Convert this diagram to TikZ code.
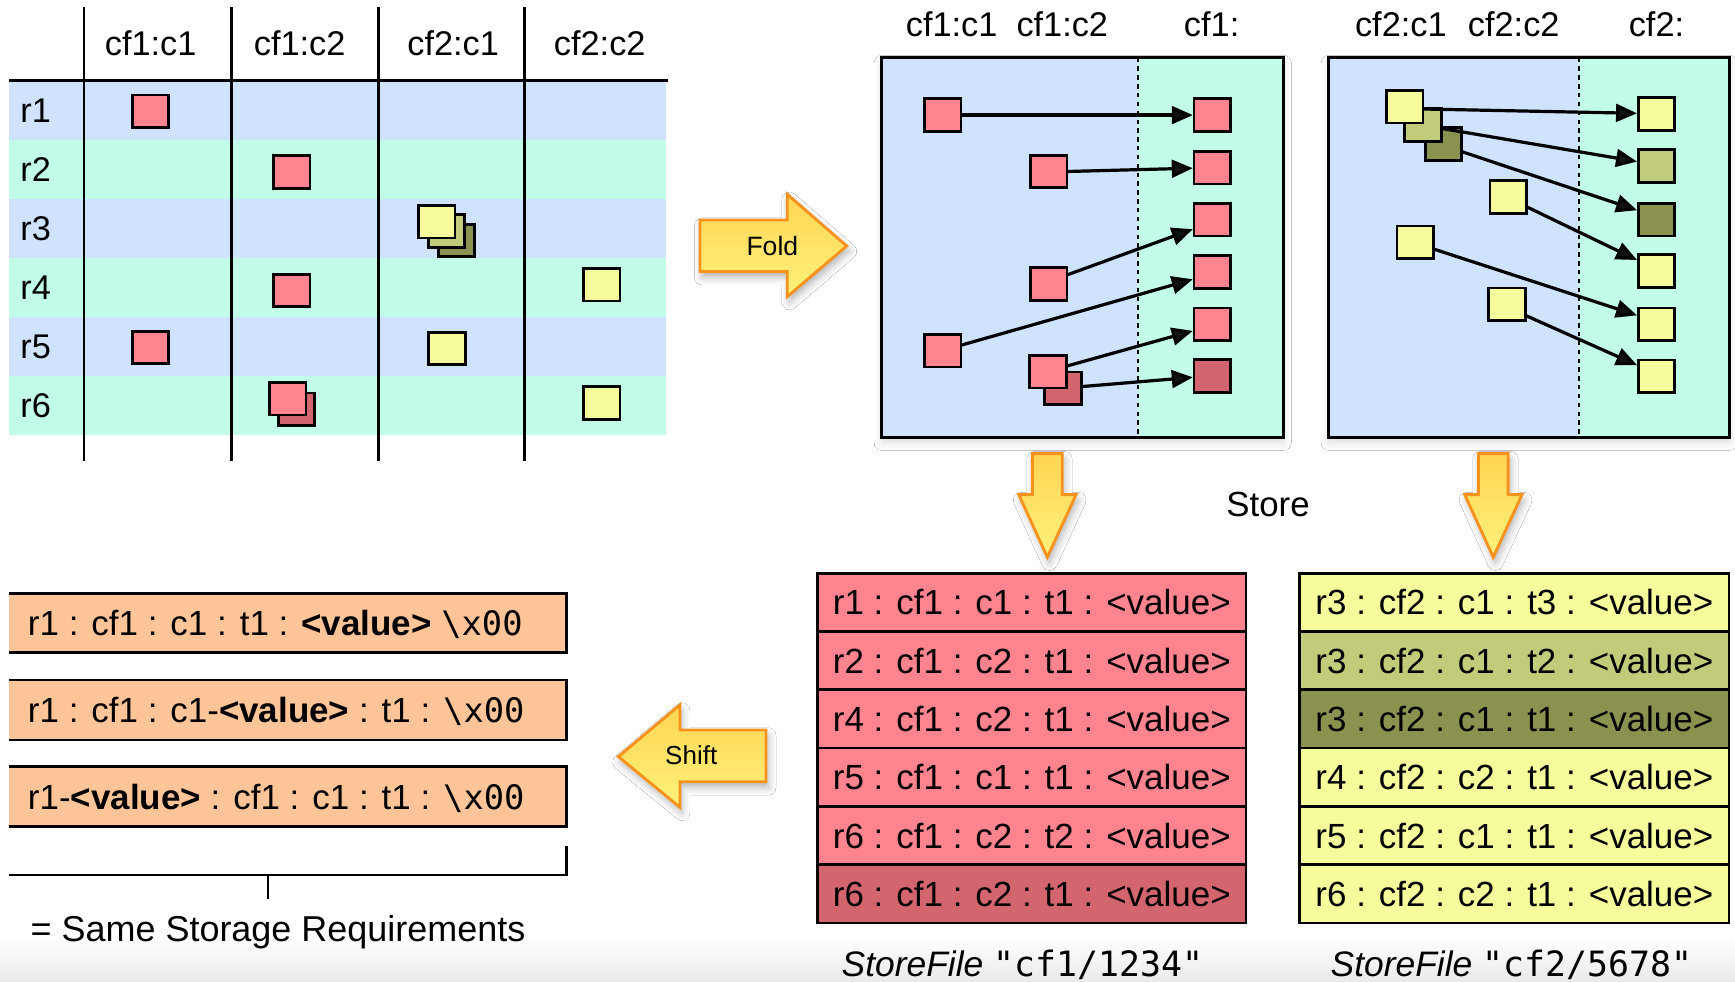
\documentclass[tikz,border=0pt]{standalone}
\usepackage{fontspec}
\setmainfont{Liberation Sans}
\setsansfont{Liberation Sans}
\setmonofont{DejaVu Sans Mono}
\usetikzlibrary{arrows.meta,calc,shadows.blur}
\definecolor{bandblue}{HTML}{CFE3FE}
\definecolor{bandgreen}{HTML}{C2FDE7}
\definecolor{pinkc}{HTML}{FF8490}
\definecolor{dpinkc}{HTML}{D3656F}
\definecolor{yelc}{HTML}{F6FB9B}
\definecolor{loc}{HTML}{C2CB7A}
\definecolor{doc}{HTML}{8B914F}
\definecolor{orgbox}{HTML}{FFC598}
\definecolor{arrowedge}{HTML}{F7921E}
\definecolor{arrowtop}{HTML}{FFD553}
\definecolor{arrowbot}{HTML}{FFF27A}
\definecolor{bggray}{HTML}{EAEAEA}
\newcommand{\fsz}[1]{\fontsize{#1}{#1}\selectfont}
\begin{document}
\begin{tikzpicture}[x=1pt,y=-1pt,
  fs/.style={inner sep=0pt, outer sep=0pt, font=\fsz{#1}, text height={0.716*#1pt}, text depth=0pt},
  hdr/.style={fs=31},
  sq/.style={draw=black, line width=2.5pt, minimum width=33pt, minimum height=29.5pt, inner sep=0pt, outer sep=0pt},
  pk/.style={sq, fill=pinkc}, dpk/.style={sq, fill=dpinkc}, yl/.style={sq, fill=yelc},
  lol/.style={sq, fill=loc}, dol/.style={sq, fill=doc},
  farr/.style={line width=2.9pt, -{Triangle[length=19pt,width=16pt]}},
  bigarrow/.style={draw=arrowedge, line width=2.6pt, top color=arrowtop, bottom color=arrowbot,
     blur shadow={shadow xshift=2pt, shadow yshift=-5pt, shadow blur radius=7pt, shadow opacity=30}},
  rowbox/.style={draw=black, line width=2.4pt, minimum width=387pt, minimum height=52.7pt, inner sep=0pt, outer sep=0pt,
     font=\fsz{31.6}, text height={0.716*31.6pt}, text depth=0pt},
  ybox/.style={rowbox, minimum width=388pt},
  panel/.style={draw=black, line width=2.6pt},
  sep/.style={line width=1.8pt, dash pattern=on 4pt off 4pt},
  tline/.style={line width=2.6pt}
]
\useasboundingbox (0,0) rectangle (1568,887);
\fill[white] (0,0) rectangle (1568,887);
\shade[top color=white, bottom color=bggray] (0,846) rectangle (1568,887);

% ---------------- left table ----------------
\foreach \k/\c in {0/bandblue,1/bandgreen,2/bandblue,3/bandgreen,4/bandblue,5/bandgreen}
  \fill[\c] (7.8,{73.2+53.3*\k}) rectangle (601.5,{73.2+53.3*(\k+1)});
\draw[tline] (7.8,72.6) -- (603.5,72.6);
\foreach \x in {75.9,209.4,341.9,474.3}
  \draw[tline] (\x,6.6) -- (\x,417);
\node[hdr] (h1) at (136.2,39) {cf1:c1};
\node[hdr] (h2) at (270.8,39) {cf1:c2};
\node[hdr] (h3) at (409.5,39) {cf2:c1};
\node[hdr] (h4) at (542,39) {cf2:c2};
\foreach \k in {1,...,6}
  \node[hdr, anchor=west] (rl\k) at (18.5,{73.2+53.3*(\k-0.5)}) {r\k};

\node[pk] (a11) at (136,100.5) {};
\node[pk] (a22) at (263.7,155.4) {};
\node[dol] (a33c) at (412.5,217.3) {};
\node[lol] (a33b) at (403.5,208.6) {};
\node[yl] (a33a) at (394.8,200.3) {};
\node[pk] (a42) at (263.7,262.5) {};
\node[yl] (a44) at (543.9,257.2) {};
\node[pk] (a51) at (136,314) {};
\node[yl] (a53) at (404,315) {};
\node[dpk] (a62b) at (268,370) {};
\node[pk] (a62a) at (260,360.4) {};
\node[yl] (a64) at (543.9,364.3) {};

% ---------------- Fold arrow ----------------
\path[bigarrow] (632.6,198.8) -- (711.5,198.8) -- (711.5,175.6) -- (765.2,222.3)
   -- (711.5,268.1) -- (711.5,245.5) -- (632.6,245.5) -- cycle;
\node[fs=24] (fold) at (698,222) {Fold};

% ---------------- panel 1 ----------------
\path[blur shadow={shadow xshift=0pt, shadow yshift=-5pt, shadow blur radius=7pt, shadow opacity=14}]
  (797,52) rectangle (1160,395);
\fill[bandblue] (797,52) rectangle (1028.7,395);
\fill[bandgreen] (1028.7,52) rectangle (1160,395);
\draw[sep] (1028.7,52) -- (1028.7,395);
\draw[panel] (797,52) rectangle (1160,395);
\node[hdr] (p1h1) at (860,22) {cf1:c1};
\node[hdr] (p1h2) at (960,22) {cf1:c2};
\node[hdr] (p1h3) at (1095,22) {cf1:};

\node[pk] (s1) at (852,104) {};
\node[pk] (s2) at (947.7,155) {};
\node[pk] (s4) at (947.7,256.5) {};
\node[pk] (s5) at (852,317) {};
\node[dpk] (s6b) at (960.7,351) {};
\node[pk] (s6a) at (947,336) {};
\node[pk] (t1) at (1095.5,104) {};
\node[pk] (t2) at (1095.5,151.5) {};
\node[pk] (t3) at (1095.5,198.6) {};
\node[pk] (t4) at (1095.5,245.7) {};
\node[pk] (t5) at (1095.5,293) {};
\node[dpk] (t6) at (1095.5,339.7) {};

\draw[farr] (s1.east) -- ($(t1.west)+(-1,0)$);
\draw[farr] (s2.east) -- ($(t2.west)+(-1,0.5)$);
\draw[farr] ($(s4.east)+(0,-8)$) -- ($(t3.west)+(-1,8.5)$);
\draw[farr] ($(s5.east)+(0,-5)$) -- ($(t4.west)+(-1,6.7)$);
\draw[farr] ($(s6a.east)+(0,-5)$) -- ($(t5.west)+(-1,6)$);
\draw[farr] ($(s6b.east)+(0,-1.6)$) -- ($(t6.west)+(-1,1.3)$);

% ---------------- panel 2 ----------------
\path[blur shadow={shadow xshift=0pt, shadow yshift=-5pt, shadow blur radius=7pt, shadow opacity=14}]
  (1201,52) rectangle (1563,395);
\fill[bandblue] (1201,52) rectangle (1426.7,395);
\fill[bandgreen] (1426.7,52) rectangle (1563,395);
\draw[sep] (1426.7,52) -- (1426.7,395);
\draw[panel] (1201,52) rectangle (1563,395);
\node[hdr] (p2h1) at (1266,22) {cf2:c1};
\node[hdr] (p2h2) at (1368,22) {cf2:c2};
\node[hdr] (p2h3) at (1497,22) {cf2:};

\node[dol] (u3) at (1304.5,130) {};
\node[lol] (u2) at (1286,113) {};
\node[yl] (u1) at (1269.5,96.5) {};
\node[yl] (u4) at (1363,178) {};
\node[yl] (u5) at (1279,219) {};
\node[yl] (u6) at (1362,275) {};
\node[yl] (v1) at (1497,103) {};
\node[lol] (v2) at (1497,150) {};
\node[dol] (v3) at (1497,198.5) {};
\node[yl] (v4) at (1497,245) {};
\node[yl] (v5) at (1497,293) {};
\node[yl] (v6) at (1497,340) {};

\draw[farr] ($(u1.east)+(0,2)$) -- ($(v1.west)+(-1,-0.6)$);
\draw[farr] ($(u2.east)+(0,3)$) -- ($(v2.west)+(-1,-4)$);
\draw[farr] ($(u3.east)+(0,7)$) -- ($(v3.west)+(-1,-8.5)$);
\draw[farr] ($(u4.east)+(0,8.8)$) -- ($(v4.west)+(-1,-10)$);
\draw[farr] ($(u5.east)+(0,6)$) -- ($(v5.west)+(-1,-8)$);
\draw[farr] ($(u6.east)+(0,10)$) -- ($(v6.west)+(-1,-10)$);

% ---------------- Store arrows ----------------
\path[bigarrow] (933,410) -- (960,410) -- (960,447) -- (972.5,447) -- (946.5,503.6)
   -- (920.7,447) -- (933,447) -- cycle;
\path[bigarrow] (1336,410) -- (1363,410) -- (1363,447) -- (1375.5,447) -- (1349.5,503.6)
   -- (1323.7,447) -- (1336,447) -- cycle;
\node[fs=31.5] (store) at (1146,455.3) {Store};

% ---------------- StoreFile cf1 ----------------
\node[rowbox, fill=pinkc]  (f1r1) at (932.5,544.35) {r1 : cf1 : c1 : t1 : <value>};
\node[rowbox, fill=pinkc]  (f1r2) at (932.5,597.05) {r2 : cf1 : c2 : t1 : <value>};
\node[rowbox, fill=pinkc]  (f1r3) at (932.5,649.75) {r4 : cf1 : c2 : t1 : <value>};
\node[rowbox, fill=pinkc]  (f1r4) at (932.5,702.45) {r5 : cf1 : c1 : t1 : <value>};
\node[rowbox, fill=pinkc]  (f1r5) at (932.5,755.15) {r6 : cf1 : c2 : t2 : <value>};
\node[rowbox, fill=dpinkc] (f1r6) at (932.5,807.85) {r6 : cf1 : c2 : t1 : <value>};

% ---------------- StoreFile cf2 ----------------
\node[ybox, fill=yelc] (f2r1) at (1368.6,544.35) {r3 : cf2 : c1 : t3 : <value>};
\node[ybox, fill=loc]  (f2r2) at (1368.6,597.05) {r3 : cf2 : c1 : t2 : <value>};
\node[ybox, fill=doc]  (f2r3) at (1368.6,649.75) {r3 : cf2 : c1 : t1 : <value>};
\node[ybox, fill=yelc] (f2r4) at (1368.6,702.45) {r4 : cf2 : c2 : t1 : <value>};
\node[ybox, fill=yelc] (f2r5) at (1368.6,755.15) {r5 : cf2 : c1 : t1 : <value>};
\node[ybox, fill=yelc] (f2r6) at (1368.6,807.85) {r6 : cf2 : c2 : t1 : <value>};

\node[fs=32, anchor=west] (sf1) at (760.7,871)
  {\itshape StoreFile\upshape\ {\fsz{31.5}\ttfamily "cf1/1234"}};
\node[fs=32, anchor=west] (sf2) at (1202.6,871)
  {\itshape StoreFile\upshape\ {\fsz{31.5}\ttfamily "cf2/5678"}};

% ---------------- Shift arrow ----------------
\path[bigarrow] (558.8,683.8) -- (614.5,637) -- (614.5,659.7) -- (692.3,659.7)
   -- (692.3,706.5) -- (614.5,706.5) -- (614.5,729.6) -- cycle;
\node[fs=23.5] (shift) at (624.7,682.5) {Shift};

% ---------------- left key boxes ----------------
\foreach \t/\b in {536.2/589.9, 614.5/668.8, 692.9/747.1}{
  \fill[orgbox] (8.3,\t) rectangle (511.8,\b);
  \draw[tline] (8.3,\t) -- (511.8,\t) -- (511.8,\b) -- (8.3,\b);
}
\node[fs=31.6, anchor=west] (k1) at (25.3,563.05)
  {r1 : cf1 : c1 : t1 : \textbf{<value>} {\fsz{30.5}\ttfamily\textbackslash x00}};
\node[fs=31.6, anchor=west] (k2) at (25.3,641.65)
  {r1 : cf1 : c1-\textbf{<value>} : t1 : {\fsz{30.5}\ttfamily\textbackslash x00}};
\node[fs=31.6, anchor=west] (k3) at (25.3,720)
  {r1-\textbf{<value>} : cf1 : c1 : t1 : {\fsz{30.5}\ttfamily\textbackslash x00}};

\coordinate (brL) at (8.3,790.8);
\coordinate (brR) at (511.8,790.8);
\coordinate (brT) at (511.8,765);
\coordinate (tkT) at (242,790.8);
\coordinate (tkB) at (242,812.8);
\draw[line width=2.2pt] (brL) -- (brR) -- (brT);
\draw[line width=2.2pt] (tkT) -- (tkB);
\node[fs=32.5, anchor=west] (same) at (27.7,839) {= Same Storage Requirements};
\end{tikzpicture}
\end{document}
